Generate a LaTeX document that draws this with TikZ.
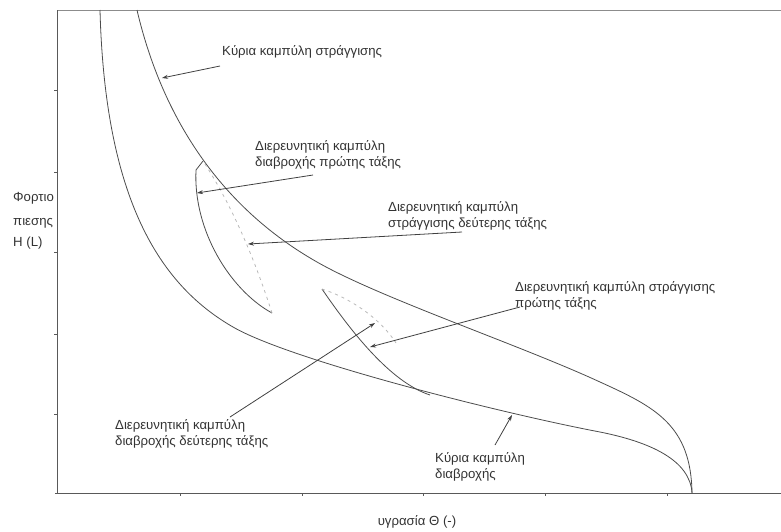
\documentclass[tikz,border=0pt]{standalone}
\usepackage{fontspec}
\setmainfont{Liberation Sans}
\usetikzlibrary{arrows.meta}
\begin{document}
\begin{tikzpicture}[x=1pt,y=-1pt,
  curve/.style={draw=black!70, line width=0.8pt},
  scanline/.style={draw=black!28, line width=0.8pt, dash pattern=on 3pt off 4pt},
  axisline/.style={draw=black!65, line width=0.8pt},
  frameline/.style={draw=black!45, line width=0.7pt},
  tickmark/.style={draw=black!65, line width=0.6pt},
  lbl/.style={font=\fontsize{13.2}{16}\selectfont, text=black!80, inner sep=0pt, align=left, anchor=west},
  arr/.style={draw=black!75, line width=0.8pt, -{Stealth[length=6pt,width=4pt]}}]
\useasboundingbox (0,0) rectangle (781,531);

% axes and frame
\draw[frameline] (57,10) -- (781,10);
\draw[axisline] (57,10) -- (57,493);
\draw[axisline] (55,493) -- (781,493);
\foreach \yy in {90,172,252,334,414} \draw[tickmark] (54,\yy) -- (57,\yy);
\foreach \xx in {180,302,423,545,667} \draw[tickmark] (\xx,493) -- (\xx,496);

% main wetting curve (left)
\draw[curve] (100,10) .. controls (105,200) and (160,285) .. (233,327)
  .. controls (290,360) and (500,413) .. (600,432)
  .. controls (650,442) and (690,460) .. (692,493);

% main drainage curve (right)
\draw[curve] (137,10) .. controls (158,100) and (208,200) .. (317,262)
  .. controls (380,298) and (520,345) .. (600,382)
  .. controls (655,407) and (691,425) .. (692,493);

% reversal points
\coordinate (r1) at (203,161);
\coordinate (r2) at (322,289);
\coordinate (r3) at (272,313);

% first-order wetting scanning curve
\draw[curve] (r1) -- (196,170) .. controls (193,230) and (230,290) .. (r3);
% second-order drainage scanning curve (dotted)
\draw[scanline] (r3) .. controls (255,260) and (232,205) .. (r1);

% first-order drainage scanning curve
\draw[curve] (r2) .. controls (350,330) and (390,382) .. (430,395);
% second-order wetting scanning curve (dotted)
\draw[scanline] (r2) .. controls (350,298) and (380,318) .. (396,343);

% labels
\node[lbl] (ld) at (222,52) {Κύρια καμπύλη στράγγισης};
\node[lbl] (lw1) at (255,155) {Διερευνητική καμπύλη\\διαβροχής πρώτης τάξης};
\node[lbl] (ld2) at (388,216) {Διερευνητική καμπύλη\\στράγγισης δεύτερης τάξης};
\node[lbl] (ld1) at (515,296) {Διερευνητική καμπύλη στράγγισης\\πρώτης τάξης};
\node[lbl] (lw2) at (115,434) {Διερευνητική καμπύλη\\διαβροχής δεύτερης τάξης};
\node[lbl] (lw) at (435,467) {Κύρια καμπύλη\\διαβροχής};
\node[lbl] (yl1) at (13,198) {Φορτιο};
\node[lbl] (yl2) at (13,223) {πιεσης};
\node[lbl] (yl3) at (13,243) {H (L)};
\node[lbl, anchor=center] (xl) at (417,522) {υγρασία Θ (-)};

% arrow ends
\coordinate (s1) at (220,66);  \coordinate (t1) at (162,78);
\coordinate (s2) at (313,175); \coordinate (t2) at (197,193);
\coordinate (s3) at (462,232); \coordinate (t3) at (248,244);
\coordinate (s4) at (520,307); \coordinate (t4) at (370,347);
\coordinate (s5) at (230,417); \coordinate (t5) at (375,323);
\coordinate (s6) at (495,445); \coordinate (t6) at (512,415);

\draw[arr] (s1) -- (t1);
\draw[arr] (s2) -- (t2);
\draw[arr] (s3) -- (t3);
\draw[arr] (s4) -- (t4);
\draw[arr] (s5) -- (t5);
\draw[arr] (s6) -- (t6);
\end{tikzpicture}
\end{document}
